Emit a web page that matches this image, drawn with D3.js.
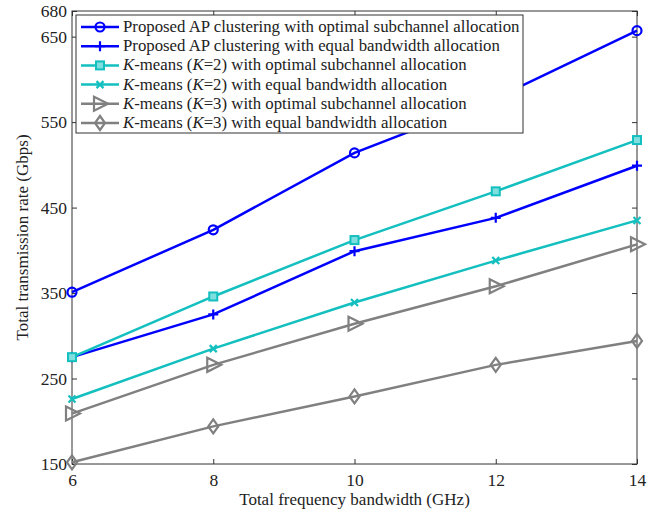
<!DOCTYPE html>
<html>
<head>
<meta charset="utf-8">
<script src="https://cdn.jsdelivr.net/npm/d3@7"></script>
<style>
  body { margin: 0; background: #fff; }
  svg text { font-family: "Liberation Serif", "Times New Roman", serif; fill: #222; }
</style>
</head>
<body>
<svg id="chart" width="657" height="514"></svg>
<script>
// bandwidth (GHz) on x, rate (Gbps) on y
const bandwidth = [6, 8, 10, 12, 14];
const xTicks = [6, 8, 10, 12, 14];
const yTicks = [150, 250, 350, 450, 550, 650, 680];

const apOptimal = [351, 424, 514, 578, 657];
const apEqual = [275, 325, 399, 438, 499];
const k2Optimal = [275, 346, 412, 469, 529];
const k2Equal = [226, 285, 339, 388, 435];
const k3Optimal = [209, 266, 314, 358, 407];
const k3Equal = [152, 194, 229, 266, 294];

const seriesNames = [
  "Proposed AP clustering with optimal subchannel allocation",
  "Proposed AP clustering with equal bandwidth allocation",
  "K-means (K=2) with optimal subchannel allocation",
  "K-means (K=2) with equal bandwidth allocation",
  "K-means (K=3) with optimal subchannel allocation",
  "K-means (K=3) with equal bandwidth allocation"
];

const blue = "#0000ff", cyan = "#13bfbf", gray = "#808080";
const series = [
  { values: apOptimal, color: blue, marker: "circle" },
  { values: apEqual, color: blue, marker: "plus" },
  { values: k2Optimal, color: cyan, marker: "square" },
  { values: k2Equal, color: cyan, marker: "cross" },
  { values: k3Optimal, color: gray, marker: "triangle" },
  { values: k3Equal, color: gray, marker: "diamond" }
];

const svg = d3.select("#chart");
const margin = { left: 72, right: 20, top: 11, bottom: 50 };
const W = 657, H = 514;

const x = d3.scaleLinear().domain([6, 14]).range([margin.left, W - margin.right]);
const y = d3.scaleLinear().domain([150, 680]).range([H - margin.bottom, margin.top]);

// axes, ticks pointing inward on all sides
const tickLen = 5;
svg.append("g").attr("transform", `translate(0,${y(150)})`)
  .call(d3.axisBottom(x).tickValues(xTicks).tickSize(-tickLen).tickPadding(10))
  .call(g => g.select(".domain").remove());
svg.append("g").attr("transform", `translate(0,${y(680)})`)
  .call(d3.axisTop(x).tickValues(xTicks).tickSize(-tickLen).tickFormat(""))
  .call(g => g.select(".domain").remove());
svg.append("g").attr("transform", `translate(${x(6)},0)`)
  .call(d3.axisLeft(y).tickValues(yTicks).tickSize(-tickLen).tickPadding(5))
  .call(g => g.select(".domain").remove());
svg.append("g").attr("transform", `translate(${x(14)},0)`)
  .call(d3.axisRight(y).tickValues(yTicks).tickSize(-tickLen).tickFormat(""))
  .call(g => g.select(".domain").remove());

svg.selectAll(".tick line").attr("stroke", "#333");
svg.selectAll(".tick text").style("font-size", "17.5px").attr("fill", "#222");

svg.append("rect")
  .attr("x", x(6)).attr("y", y(680))
  .attr("width", x(14) - x(6)).attr("height", y(150) - y(680))
  .attr("fill", "none").attr("stroke", "#333").attr("stroke-width", 1);

// axis titles
svg.append("text")
  .attr("x", (x(6) + x(14)) / 2).attr("y", 505)
  .attr("text-anchor", "middle").style("font-size", "17px")
  .text("Total frequency bandwidth (GHz)");
svg.append("text")
  .attr("transform", `translate(28,${(y(150) + y(680)) / 2}) rotate(-90)`)
  .attr("text-anchor", "middle").style("font-size", "17px")
  .text("Total transmission rate (Gbps)");

function drawMarker(g, type, color, cx, cy) {
  if (type === "circle") {
    g.append("circle").attr("cx", cx).attr("cy", cy).attr("r", 4.5)
      .attr("fill", "none").attr("stroke", color).attr("stroke-width", 2.2);
  } else if (type === "plus") {
    g.append("path").attr("d", `M${cx - 5},${cy}H${cx + 5}M${cx},${cy - 5}V${cy + 5}`)
      .attr("stroke", color).attr("stroke-width", 2.2);
  } else if (type === "square") {
    g.append("rect").attr("x", cx - 4).attr("y", cy - 4).attr("width", 8).attr("height", 8)
      .attr("fill", "#7fdede").attr("stroke", color).attr("stroke-width", 2);
  } else if (type === "cross") {
    g.append("path").attr("d", `M${cx - 3.5},${cy - 3.5}L${cx + 3.5},${cy + 3.5}M${cx - 3.5},${cy + 3.5}L${cx + 3.5},${cy - 3.5}`)
      .attr("stroke", color).attr("stroke-width", 2.2);
  } else if (type === "triangle") {
    g.append("path").attr("d", `M${cx - 6},${cy - 7}L${cx + 8},${cy}L${cx - 6},${cy + 7}Z`)
      .attr("fill", "none").attr("stroke", color).attr("stroke-width", 2.2);
  } else if (type === "diamond") {
    g.append("path").attr("d", `M${cx},${cy - 7}L${cx + 5},${cy}L${cx},${cy + 7}L${cx - 5},${cy}Z`)
      .attr("fill", "none").attr("stroke", color).attr("stroke-width", 2.2);
  }
}

const line = d3.line().x((d, i) => x(bandwidth[i])).y(d => y(d));

series.forEach(s => {
  const g = svg.append("g");
  g.append("path").datum(s.values).attr("d", line)
    .attr("fill", "none").attr("stroke", s.color).attr("stroke-width", 2.5);
  s.values.forEach((v, i) => drawMarker(g, s.marker, s.color, x(bandwidth[i]), y(v)));
});

// legend
const lg = svg.append("g");
lg.append("rect").attr("x", 76).attr("y", 15).attr("width", 447).attr("height", 118)
  .attr("fill", "#fff").attr("stroke", "#333").attr("stroke-width", 1);

function legendLabel(t, name) {
  const m = name.match(/^K-means \(K=(\d)\)(.*)$/);
  if (!m) { t.text(name); return; }
  t.append("tspan").style("font-style", "italic").text("K");
  t.append("tspan").text("-means (");
  t.append("tspan").style("font-style", "italic").text("K");
  t.append("tspan").text("=" + m[1] + ")" + m[2]);
}

series.forEach((s, i) => {
  const ly = 27 + i * 19.2;
  lg.append("line").attr("x1", 81).attr("x2", 119).attr("y1", ly).attr("y2", ly)
    .attr("stroke", s.color).attr("stroke-width", 2.5);
  drawMarker(lg, s.marker, s.color, 100, ly);
  const t = lg.append("text").attr("x", 123).attr("y", ly + 5).style("font-size", "16.8px");
  legendLabel(t, seriesNames[i]);
});
</script>
</body>
</html>
